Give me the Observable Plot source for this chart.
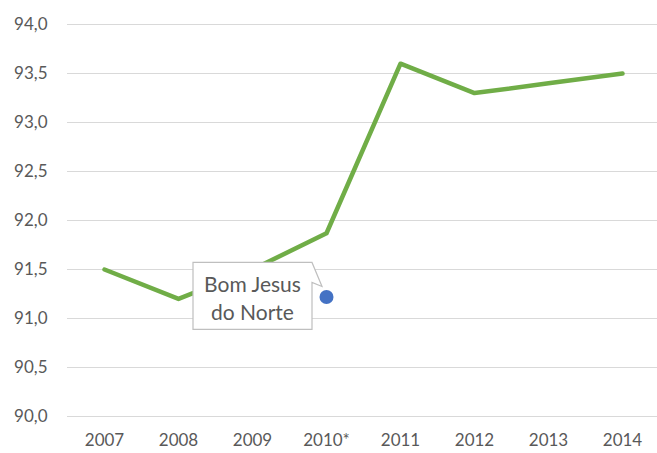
<!DOCTYPE html>
<html><head><meta charset="utf-8">
<script src="https://cdn.jsdelivr.net/npm/d3@7"></script>
<script src="https://cdn.jsdelivr.net/npm/@observablehq/plot@0.6"></script>
<style>body{margin:0;background:#fff}</style>
</head><body><div id="chart"></div>
<script>
const years = ["2007","2008","2009","2010*","2011","2012","2013","2014"];
const values = [91.5, 91.2, 91.5, 91.87, 93.6, 93.3, 93.4, 93.5];
const yTicks = [90, 90.5, 91, 91.5, 92, 92.5, 93, 93.5, 94];
const highlightYear = "2010*";
const highlightValue = 91.22;
const highlightLabel = ["Bom Jesus", "do Norte"];

const data = years.map((year, i) => ({year, value: values[i]}));
const fmt = d => d.toFixed(1).replace(".", ",");
const font = "Lato, 'Open Sans', sans-serif";

const plot = Plot.plot({
  width: 657, height: 453,
  marginLeft: 67, marginRight: 0, marginTop: 24, marginBottom: 37,
  style: {fontFamily: font, fontSize: "17px", color: "#595959", background: "#fff"},
  x: {type: "point", domain: years, range: [104, 622], padding: 0, label: null, tickSize: 0, tickPadding: 17},
  y: {domain: [90, 94], ticks: yTicks, tickFormat: fmt, label: null, tickSize: 0, tickPadding: 20},
  marks: [
    Plot.gridY(yTicks, {stroke: "#d9d9d9", strokeOpacity: 1, strokeWidth: 1}),
    Plot.line(data, {x: "year", y: "value", stroke: "#70ad47", strokeWidth: 4.5, strokeLinejoin: "round", strokeLinecap: "round"}),
    Plot.dot([{year: highlightYear, value: highlightValue}], {x: "year", y: "value", r: 7, fill: "#4472c4", stroke: "none"})
  ]
});
document.getElementById("chart").appendChild(plot);

// callout anchored at the highlighted dot, positioned through the plot's scales
const cx = plot.scale("x").apply(highlightYear);
const cy = plot.scale("y").apply(highlightValue);
const svg = d3.select(plot);
const dotGroup = svg.selectAll("g[aria-label='dot']").node();
const g = svg.insert("g", () => dotGroup);
const L = cx - 133, R = cx - 14, T = cy - 34, B = cy + 33;
g.append("path")
  .attr("d", `M${L},${T}H${R}L${cx - 4},${cy - 10}L${R},${cy - 14}V${B}H${L}Z`)
  .attr("fill", "#fff").attr("stroke", "#bfbfbf").attr("stroke-width", 1.2);
highlightLabel.forEach((t, i) => {
  g.append("text")
    .attr("x", (L + R) / 2).attr("y", cy - 12 + i * 28)
    .attr("dy", "0.35em").attr("text-anchor", "middle")
    .attr("fill", "#595959").attr("font-size", 21).attr("font-family", font)
    .text(t);
});
</script>
</body></html>
